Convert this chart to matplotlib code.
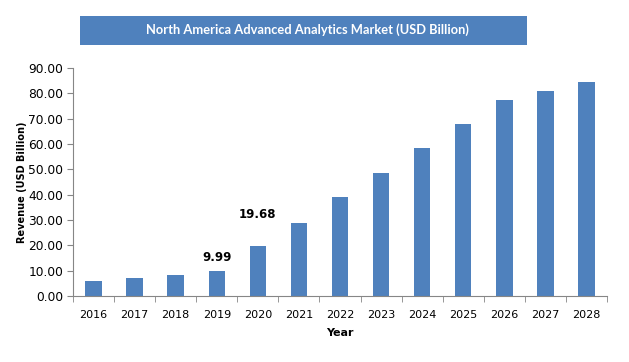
import matplotlib
matplotlib.use("Agg")
import matplotlib.pyplot as plt
from matplotlib.patches import Rectangle
import numpy as np

# data
years = ["2016", "2017", "2018", "2019", "2020", "2021", "2022",
         "2023", "2024", "2025", "2026", "2027", "2028"]
revenue = [6.0, 7.2, 8.4, 9.99, 19.68, 29.0, 39.1,
           48.6, 58.4, 67.9, 77.4, 80.9, 84.5]
labelled = {"2019": "9.99", "2020": "19.68"}
# how far above the bar each data label sits (in data units)
label_gap = {"2019": 5.4, "2020": 12.3}

bar_color = "#4F81BD"
axis_color = "#868686"

plt.rcParams["font.family"] = ["DejaVu Sans"]

fig = plt.figure(figsize=(6.29, 3.62), dpi=100)
ax = fig.add_axes([73 / 629, 1 - 296 / 362, (607 - 73) / 629, (296 - 68) / 362])

x = np.arange(len(years))
ax.bar(x, revenue, width=0.4, color=bar_color)

# data labels above two bars
for i, yr in enumerate(years):
    if yr in labelled:
        ax.text(i, revenue[i] + label_gap[yr], labelled[yr], ha="center", va="center",
                fontsize=8.5, fontweight="bold", color="black")

ax.set_xlim(-0.5, len(years) - 0.5)
ax.set_ylim(0, 90)
ax.set_yticks(np.arange(0, 91, 10))
ax.set_yticklabels([f"{v:.2f}" for v in np.arange(0, 91, 10)])
ax.set_xticks(x)
ax.set_xticklabels(years)
ax.set_xticks(np.arange(-0.5, len(years), 1), minor=True)
ax.tick_params(axis="x", which="major", length=0, pad=10, labelsize=8)
ax.tick_params(axis="x", which="minor", length=4, color=axis_color)
ax.tick_params(axis="y", length=4, color=axis_color, labelsize=8.8, pad=3)

for side in ["top", "right"]:
    ax.spines[side].set_visible(False)
for side in ["left", "bottom"]:
    ax.spines[side].set_color(axis_color)

ax.set_ylabel("Revenue (USD Billion)", fontsize=7, fontweight="bold", labelpad=1)
fig.text(340 / 629, 1 - 333 / 362, "Year", ha="center", va="center",
         fontsize=8, fontweight="bold")

# title banner
fig.patches.append(Rectangle((80 / 629, 1 - 45 / 362), (527 - 80) / 629, 29 / 362,
                             transform=fig.transFigure, facecolor=bar_color,
                             edgecolor="none"))
fig.text(307 / 629, 1 - 30 / 362, "North America Advanced Analytics Market (USD Billion)",
         ha="center", va="center", color="white", fontsize=9.3, fontweight="bold",
         family=["Lato", "DejaVu Sans"])

fig.savefig("out.png", dpi=100)
